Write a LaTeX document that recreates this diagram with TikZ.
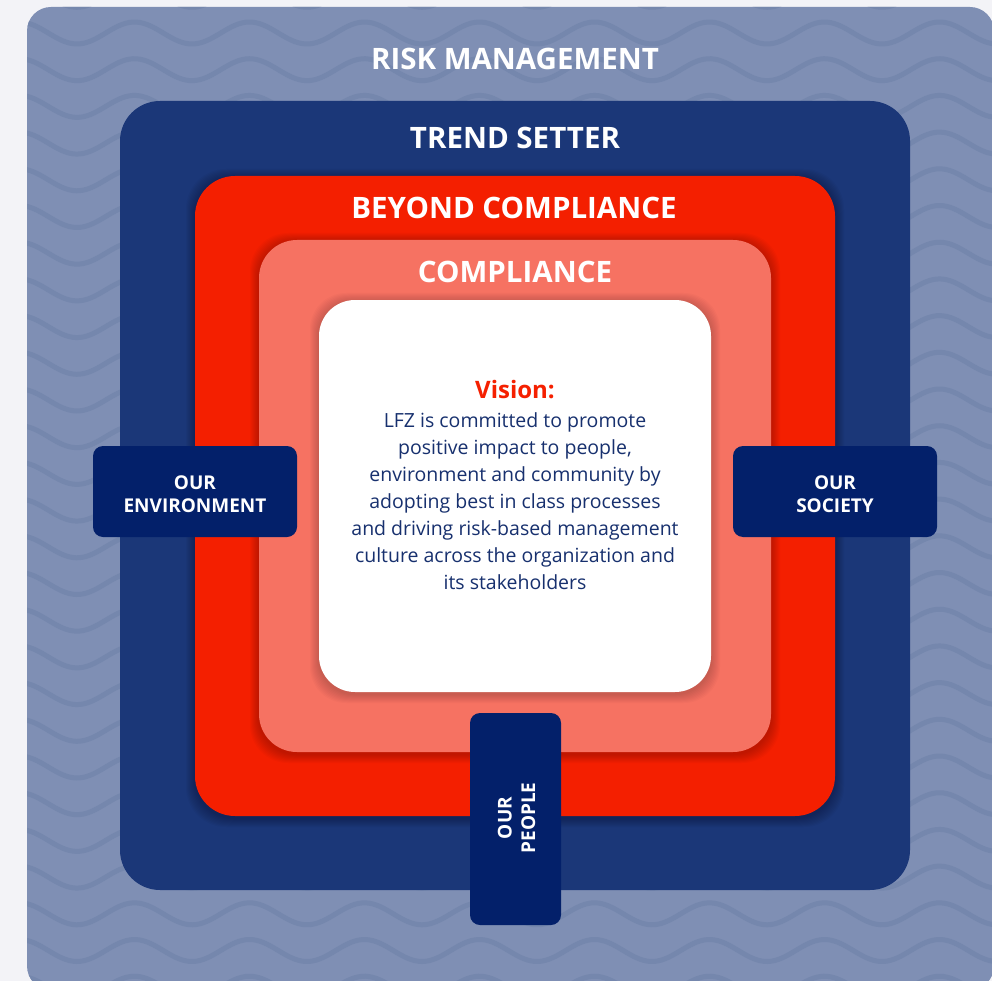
\documentclass[tikz,border=0pt]{standalone}
\usepackage{fontspec}
\setmainfont{Open Sans}
\definecolor{bgc}{HTML}{F3F3F7}
\definecolor{outerc}{HTML}{7F8FB4}
\definecolor{wavec}{HTML}{7587AD}
\definecolor{trendc}{HTML}{1B3778}
\definecolor{beyondc}{HTML}{F41F00}
\definecolor{complc}{HTML}{F67262}
\definecolor{pillarc}{HTML}{03206A}
\definecolor{textc}{HTML}{17306E}
\definecolor{visionc}{HTML}{F52000}
\tikzset{
  layer/.style={draw=none, inner sep=0pt, outer sep=0pt},
  pillar/.style={draw=none, fill=pillarc, inner sep=0pt, rounded corners=10pt},
  heading/.style={text=white, font=\bfseries\fontsize{29.5}{34}\selectfont, inner sep=0pt},
  pillartext/.style={text=white, align=center, font=\bfseries\fontsize{19}{23.5}\selectfont, inner sep=0pt},
}
\begin{document}
\begin{tikzpicture}[x=1pt,y=-1pt]
\useasboundingbox (0,0) rectangle (992,981);
\clip (0,0) rectangle (992,981);
\fill[bgc] (0,0) rectangle (992,981);
% outer layer
\node[layer, fill=outerc, minimum width=967pt, minimum height=983pt, rounded corners=24pt] (risk) at (510.5,498.5) {};
\begin{scope}
\clip[rounded corners=24pt] (27,7) rectangle (994,990);
\foreach \k in {-1,...,27}
  \draw[wavec, line width=5pt] plot[domain=20:1000, samples=140, smooth] (\x, {33+36.7*\k + 11*cos((\x-77)/115*360)});
\end{scope}
% trend setter
\node[layer, fill=trendc, minimum width=790pt, minimum height=789pt, rounded corners=40pt] (trend) at (515,495.5) {};
% beyond compliance with soft shadow
\foreach \i in {1,...,9}
  \fill[black, opacity=0.028, rounded corners=40pt] (195-\i,178-\i) rectangle (835+\i,818+\i);
\node[layer, fill=beyondc, minimum width=640pt, minimum height=640pt, rounded corners=40pt] (beyond) at (515,496) {};
% compliance
\foreach \i in {1,...,9}
  \fill[black, opacity=0.024, rounded corners=38pt] (259-\i,242-\i) rectangle (771+\i,754+\i);
\node[layer, fill=complc, minimum width=512pt, minimum height=512pt, rounded corners=38pt] (compl) at (515,496) {};
% vision
\foreach \i in {1,...,9}
  \fill[black, opacity=0.02, rounded corners=36pt] (319-\i,302-\i) rectangle (711+\i,694+\i);
\node[layer, fill=white, minimum width=392pt, minimum height=392pt, rounded corners=36pt] (vision) at (515,496) {};
% headings
\node[heading] (tRisk) at (515,59) {RISK MANAGEMENT};
\node[heading] (tTrend) at (515,138) {TREND SETTER};
\node[heading] (tBeyond) at (514,208) {BEYOND COMPLIANCE};
\node[heading] (tCompl) at (515,272) {COMPLIANCE};
% vision text
\node[text=visionc, font=\bfseries\fontsize{24}{30}\selectfont, inner sep=0pt] (vTitle) at (515,390) {Vision:};
\node[text=textc, align=center, font=\fontsize{19.5}{27}\selectfont, inner sep=0pt, anchor=north] (vText) at (515,412)
 {LFZ is committed to promote\\positive impact to people,\\environment and community by\\adopting best in class processes\\and driving risk-based management\\culture across the organization and\\its stakeholders};
% pillars
\node[pillar, minimum width=204pt, minimum height=91pt] (env) at (195,491.5) {};
\node[pillartext] (envT) at (195,494) {OUR\\ENVIRONMENT};
\node[pillar, minimum width=204pt, minimum height=91pt] (soc) at (835,491.5) {};
\node[pillartext] (socT) at (835,494) {OUR\\SOCIETY};
\node[pillar, minimum width=91pt, minimum height=212pt] (people) at (515.5,819) {};
\node[pillartext, rotate=90] (peopleT) at (516.5,818) {OUR\\PEOPLE};
\end{tikzpicture}
\end{document}
